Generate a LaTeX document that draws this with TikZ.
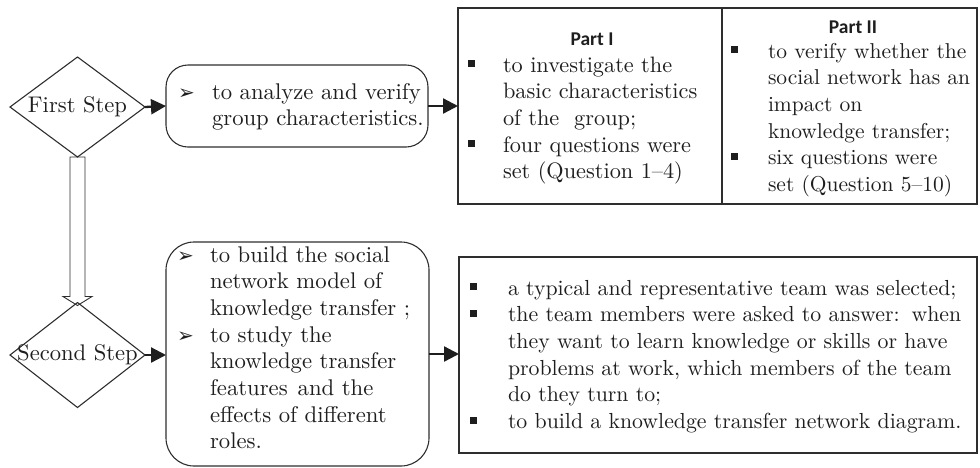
\documentclass[tikz,border=0pt]{standalone}
\usepackage{fontspec}
\setmainfont{lmroman10-regular}[Extension=.otf]
\newfontfamily\headfont{Carlito}
\newfontfamily\symfont{DejaVu Sans}
\usetikzlibrary{shapes.geometric,arrows.meta,calc}
\definecolor{ink}{HTML}{1E1E1E}
\definecolor{edge}{HTML}{2E2E2E}
% bullet marks used in the text blocks
\newcommand{\arrbul}{\raisebox{0pt}{\symfont\fontsize{20}{20}\selectfont ➢}}
\newcommand{\sqbul}{\rule[5pt]{7pt}{7pt}}
\newcommand{\bodysize}[1]{\fontsize{#1}{26.7}\selectfont}

\begin{document}
\begin{tikzpicture}[x=1pt,y=-1pt,
  every node/.style={inner sep=0pt, outer sep=0pt, text=ink},
  frame/.style={draw=edge, line width=1.1pt},
  roundbox/.style={frame, rounded corners=#1},
  stepshape/.style={frame, diamond, minimum width=135pt, minimum height=#1},
  steplabel/.style={font=\fontsize{22.6}{24}\selectfont},
  textblock/.style={anchor=base west, font=\bodysize{#1}, align=left},
  textblock/.default=22.7,
  headlabel/.style={anchor=base, font=\headfont\bfseries\fontsize{19.5}{20}\selectfont},
  solidarrow/.style={draw=ink, line width=2.3pt, -{Triangle[length=15pt,width=15pt]}},
  hollowarrow/.style={draw=edge, line width=0.9pt, line join=miter}]

\useasboundingbox (0,0) rectangle (980,467);

% decision diamonds
\node[stepshape=100pt] (d1) at (77.5,107) {};
\node[steplabel] (d1t) at (d1.center) {First Step};
\node[stepshape=105pt] (d2) at (77.5,355) {};
\node[steplabel] (d2t) at (d2.center) {Second Step};

% rounded boxes
\node[roundbox=22pt, minimum width=262pt, minimum height=82pt] (b1) at (297,106) {};
\node[roundbox=28pt, minimum width=263pt, minimum height=224pt] (b2) at (297.5,354) {};

% two-part table and the lower box
\node[frame, minimum width=264pt, minimum height=196pt] (p1) at (590,106) {};
\node[frame, minimum width=255pt, minimum height=196pt] (p2) at (849.5,106) {};
\node[frame, minimum width=518pt, minimum height=196pt] (b3) at (718,355) {};

% connectors
\draw[solidarrow] (d1.east) -- (b1.west);
\draw[solidarrow] (b1.east) -- (p1.west);
\draw[solidarrow] (d2.east) -- (d2.east -| b2.west);
\draw[solidarrow] (b2.east) -- (b2.east -| b3.west);

% hollow block arrow between the steps
\draw[hollowarrow]
  ($(d1.south)+(-7.5,0)$) -- ($(d2.north)+(-7.5,-6)$) -- ($(d2.north)+(-14.5,-6)$)
  -- ($(d2.north)+(0,3)$) -- ($(d2.north)+(14.5,-6)$) -- ($(d2.north)+(7.5,-6)$)
  -- ($(d1.south)+(7.5,0)$) -- cycle;

% texts
\node[textblock] (b1t) at (178,99) {\begin{tabular}[t]{@{}p{34pt}@{}l@{}}
  \arrbul & to analyze and verify\\
          & group characteristics.
\end{tabular}};

\node[headlabel] (h1) at (592,45) {Part I};
\node[textblock=22.3] (p1t) at (468,72) {\begin{tabular}[t]{@{}p{35pt}@{}l@{}}
  \sqbul & to investigate the\\
         & basic characteristics\\
         & of the\ \ group;\\
  \sqbul & four questions were\\
         & set (Question 1–4)
\end{tabular}};

\node[headlabel] (h2) at (853,33) {Part II};
\node[textblock=21.5] (p2t) at (731,58) {\begin{tabular}[t]{@{}p{37pt}@{}l@{}}
  \sqbul & to verify whether the\\
         & social network has an\\
         & impact on\\
         & knowledge transfer;\\
  \sqbul & six questions were\\
         & set (Question 5–10)
\end{tabular}};

\node[textblock] (b2t) at (177,262) {\begin{tabular}[t]{@{}p{33pt}@{}l@{}}
  \arrbul & to build the social\\
          & network model of\\
          & knowledge transfer ;\\
  \arrbul & to study the\\
          & knowledge transfer\\
          & features\hspace{10pt}and the\\
          & effects of different\\
          & roles.
\end{tabular}};

\node[textblock=21.8] (b3t) at (470,295) {\begin{tabular}[t]{@{}p{38pt}@{}l@{}}
  \sqbul & a typical and representative team was selected;\\
  \sqbul & the team members were asked to answer:\hspace{12pt}when\\
         & they want to learn knowledge or skills or have\\
         & problems at work, which members of the team\\
         & do they turn to;\\
  \sqbul & to build a knowledge transfer network diagram.
\end{tabular}};

\end{tikzpicture}
\end{document}
